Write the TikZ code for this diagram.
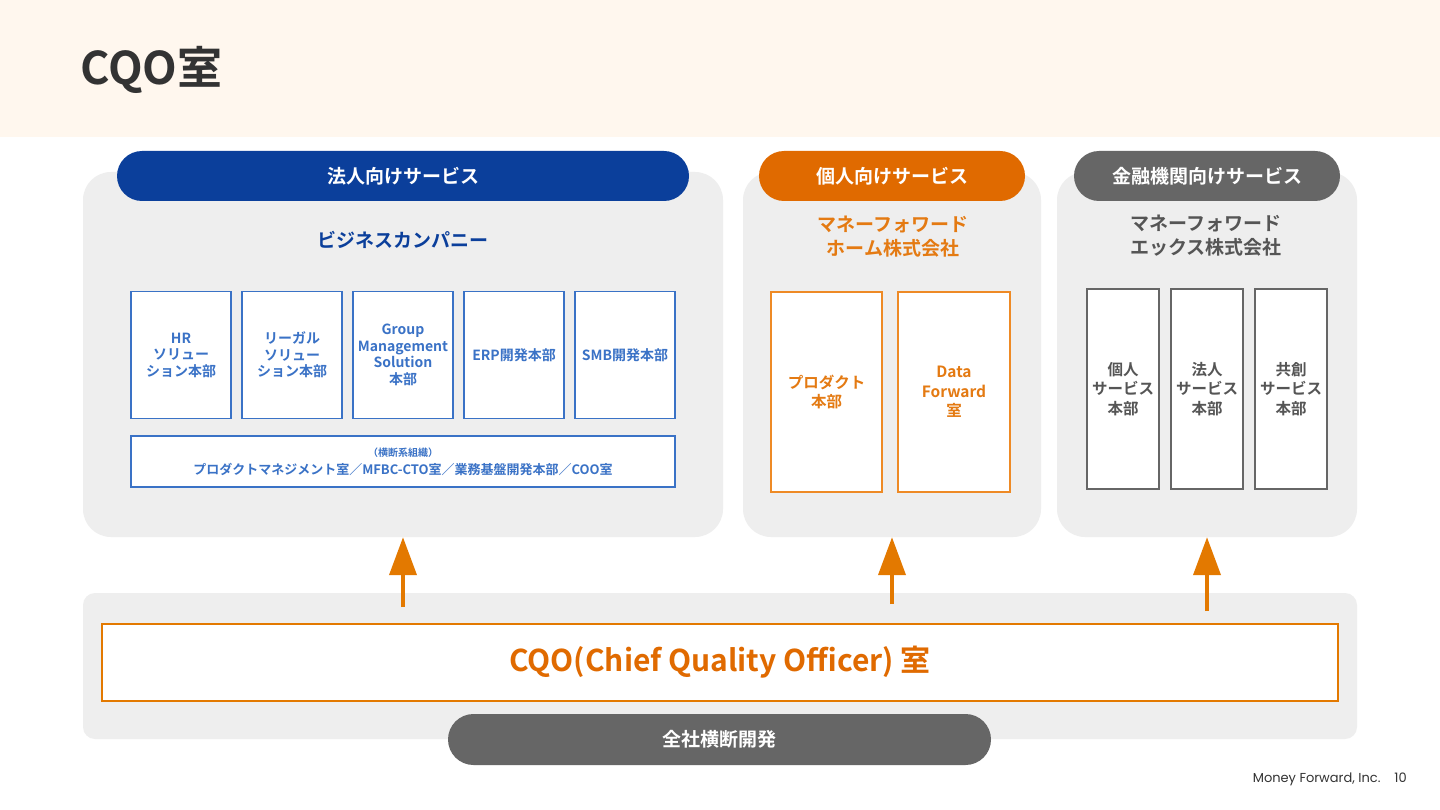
\documentclass[tikz,border=0pt]{standalone}
\usepackage{fontspec}
\setmainfont{Noto Sans CJK JP}[BoldFont={Noto Sans CJK JP Bold}]
\newfontfamily\footfont{Poppins}
\usetikzlibrary{positioning, arrows.meta, shapes.misc}

\definecolor{headcream}{HTML}{FFF7EE}
\definecolor{panelgray}{HTML}{EEEEEE}
\definecolor{bizblue}{HTML}{0B3F9B}
\definecolor{boxblue}{HTML}{3A72C6}
\definecolor{pillorange}{HTML}{E06A00}
\definecolor{boxorange}{HTML}{EE8A25}
\definecolor{txtorange}{HTML}{E47A12}
\definecolor{pillgray}{HTML}{666666}
\definecolor{txtgray}{HTML}{555555}
\definecolor{titlegray}{HTML}{333333}

\newcommand{\pillfont}{\fontsize{19pt}{24pt}\selectfont\bfseries}
\newcommand{\boxfont}{\fontsize{14pt}{16.5pt}\selectfont\bfseries}
\newcommand{\tallfont}{\fontsize{15.5pt}{19.5pt}\selectfont\bfseries}

\tikzset{
  panel/.style={fill=panelgray, draw=none, rounded corners=28pt, inner sep=0},
  pill/.style={rounded rectangle, fill=#1, draw=none, text=white, font=\pillfont,
    minimum height=50pt, inner sep=0},
  unitbox/.style={draw=#1, fill=white, line width=1.5pt, align=center, inner sep=0},
  upflow/.style={-{Triangle[length=38pt,width=27pt]}, draw=pillorange!90!yellow, line width=4pt}
}

\begin{document}
\begin{tikzpicture}[x=1pt,y=-1pt]
\useasboundingbox (0,0) rectangle (1440,810);
\fill[white] (0,0) rectangle (1440,810);
\fill[headcream] (0,0) rectangle (1440,137);
\node[anchor=west, text=titlegray, font=\fontsize{45pt}{49pt}\selectfont\bfseries, inner sep=0] (title) at (80,70) {CQO室};

% panels
\node[panel, minimum width=640pt, minimum height=365pt] (hojinpanel) at (403,354.5) {};
\node[panel, minimum width=298pt, minimum height=365pt] (kojinpanel) at (892,354.5) {};
\node[panel, minimum width=300pt, minimum height=365pt] (kinyupanel) at (1207,354.5) {};

\node[pill=bizblue, minimum width=572pt] (hojinpill) at (403,176) {法人向けサービス};
\node[pill=pillorange, minimum width=266pt] (kojinpill) at (892,176) {個人向けサービス};
\node[pill=pillgray, minimum width=266pt] (kinyupill) at (1207,176) {金融機関向けサービス};

% company names
\node[text=bizblue, font=\pillfont] (biz) at (403,240) {ビジネスカンパニー};
\node[text=txtorange, font=\pillfont, align=center] (home) at (893,237) {マネーフォワード\\ホーム株式会社};
\node[text=txtgray, font=\pillfont, align=center] (xco) at (1206,236) {マネーフォワード\\エックス株式会社};

% business company units
\begin{scope}[node distance=9.5pt, every node/.style={unitbox=boxblue, text=boxblue, font=\boxfont, minimum width=100pt, minimum height=127pt}]
\node (hr) at (181,355) {HR\\ソリュー\\ション本部};
\node[right=of hr] (legal) {リーガル\\ソリュー\\ション本部};
\node[right=of legal] (gms) {Group\\Management\\Solution\\本部};
\node[right=of gms] (erp) {ERP開発本部};
\node[right=of erp] (smb) {SMB開発本部};
\end{scope}
\node[unitbox=boxblue, text=boxblue, minimum width=544pt, minimum height=51pt,
  font=\fontsize{13pt}{18pt}\selectfont\bfseries] (cross) at (403,461.5)
  {{\fontsize{10pt}{12pt}\selectfont （横断系組織）}\\プロダクトマネジメント室／MFBC-CTO室／業務基盤開発本部／COO室};

% home units
\node[unitbox=boxorange, text=txtorange, font=\tallfont, minimum width=111pt, minimum height=200pt] (prod) at (826.5,392) {プロダクト\\本部};
\node[unitbox=boxorange, text=txtorange, font=\tallfont, minimum width=112pt, minimum height=200pt] (dfwd) at (954,392) {Data\\Forward\\室};

% x units
\begin{scope}[every node/.style={unitbox=pillgray, text=txtgray, font=\tallfont, minimum width=72pt, minimum height=200pt}]
\node (kojin) at (1123,389) {個人\\サービス\\本部};
\node (hojin) at (1207,389) {法人\\サービス\\本部};
\node (kyoso) at (1291,389) {共創\\サービス\\本部};
\end{scope}

% cross-company development
\node[fill=panelgray, rounded corners=12pt, minimum width=1274pt, minimum height=146pt] (basepanel) at (720,666) {};
\node[draw=pillorange!90!yellow, fill=white, line width=2pt, minimum width=1236pt, minimum height=77pt,
  text=pillorange, font=\fontsize{30pt}{34pt}\selectfont\bfseries] (cqo) at (720,662.5) {CQO(Chief Quality Officer) 室};
\node[pill=pillgray, minimum width=543pt, minimum height=51pt] (zensha) at (719.5,739.5) {全社横断開発};

\coordinate (src1) at (403,607);
\coordinate (src2) at (892,604);
\coordinate (src3) at (1207,611);
\draw[upflow] (src1) -- (hojinpanel.south);
\draw[upflow] (src2) -- (kojinpanel.south);
\draw[upflow] (src3) -- (kinyupanel.south);

\node[anchor=east, text=titlegray, font=\footfont\fontsize{13pt}{15pt}\selectfont, inner sep=0] (foot) at (1407,779) {Money Forward, Inc.\hspace{14pt}10};
\end{tikzpicture}
\end{document}
